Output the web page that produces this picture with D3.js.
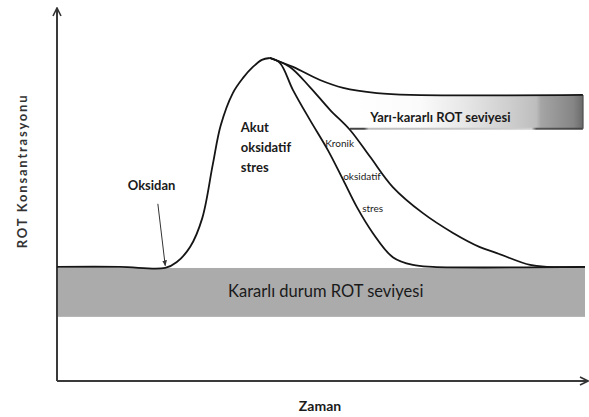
<!DOCTYPE html>
<html>
<head>
<meta charset="utf-8">
<script src="https://cdn.jsdelivr.net/npm/d3@7"></script>
<style>
  body { margin: 0; background: #fff; }
  text { font-family: Lato, "Open Sans", sans-serif; fill: #1a1a1a; }
</style>
</head>
<body>
<div id="chart"></div>
<script>
// time (0-100) vs ROT concentration (0-100)
var acuteRise = [[0,30.6],[11.9,30.6],[20.5,30.3],[22.7,31.9],[25.2,35.9],[27.5,43.6],
                 [29.5,58.0],[31.0,68.5],[33.3,77.2],[35.2,81.2],[37.1,84.2],[38.8,86.1],[40.3,86.6]];
var acuteFall = [[40.3,86.6],[42.2,85.3],[44.7,78.0],[47.9,70.0],[51.3,61.9],[54.2,53.9],[56.8,46.6],
                 [59.8,39.7],[63.6,33.2],[67.4,31.1],[71.2,30.6],[100,30.6]];
var chronicFall = [[40.3,86.6],[44.1,84.2],[47.9,78.8],[51.7,72.7],[55.5,67.3],[59.3,60.1],[63.6,52.0],
                   [69.3,45.0],[75.0,39.7],[80.1,35.9],[83.3,34.3],[89.6,31.1],[92.8,30.6],[100,30.6]];
var semiStable = [[40.3,86.6],[44.7,84.2],[49.8,80.7],[54.2,78.6],[60.6,77.2],[66.9,76.7],[99.6,76.7]];

var steadyBand = {t0: 0, t1: 100, top: 30.3, bottom: 17.2};
var semiBand = {t0: 55.5, t1: 99.6, top: 76.7, bottom: 67.6};

var labels = [
  {text: "Kararlı durum ROT seviyesi", t: 50.9, c: 22.6, size: 16.5, weight: "normal", anchor: "middle"},
  {text: "Yarı-kararlı ROT seviyesi", t: 72.6, c: 69.4, size: 13, weight: "bold", anchor: "middle"},
  {text: "Oksidan", t: 13.4, c: 51.2, size: 13, weight: "bold", anchor: "start"},
  {text: "Akut", t: 34.8, c: 66.8, size: 13, weight: "bold", anchor: "start"},
  {text: "oksidatif", t: 34.8, c: 61.4, size: 13, weight: "bold", anchor: "start"},
  {text: "stres", t: 34.8, c: 56.1, size: 13, weight: "bold", anchor: "start"},
  {text: "Kronik", t: 50.8, c: 62.7, size: 10, weight: "normal", anchor: "start"},
  {text: "oksidatif", t: 54.2, c: 53.9, size: 10, weight: "normal", anchor: "start"},
  {text: "stres", t: 57.8, c: 45.3, size: 10, weight: "normal", anchor: "start"}
];
var oxidantArrow = [[19.1, 47.5], [20.5, 30.9]];

var width = 589, height = 417;
var x = d3.scaleLinear().domain([0, 100]).range([57, 585]);
var y = d3.scaleLinear().domain([0, 100]).range([381, 8]);

var svg = d3.select("#chart").append("svg")
    .attr("width", width)
    .attr("height", height);

var defs = svg.append("defs");
defs.append("marker")
    .attr("id", "head")
    .attr("viewBox", "0 0 10 10")
    .attr("refX", 9).attr("refY", 5)
    .attr("markerWidth", 5).attr("markerHeight", 5)
    .attr("markerUnits", "strokeWidth")
    .attr("orient", "auto")
  .append("path")
    .attr("d", "M1,1 L9,5 L1,9")
    .style("fill", "none")
    .style("stroke", "#333")
    .style("stroke-width", 1.6);
defs.append("marker")
    .attr("id", "thin")
    .attr("viewBox", "0 0 10 10")
    .attr("refX", 9).attr("refY", 5)
    .attr("markerWidth", 6).attr("markerHeight", 6)
    .attr("orient", "auto")
  .append("path")
    .attr("d", "M0,1 L10,5 L0,9 Z")
    .style("fill", "#333");

var grad = defs.append("linearGradient")
    .attr("id", "semiFill")
    .attr("gradientUnits", "userSpaceOnUse")
    .attr("x1", x(semiBand.t0)).attr("x2", x(semiBand.t1))
    .attr("y1", 0).attr("y2", 0);
[[0, "#ffffff"], [0.3, "#fbfbfb"], [0.5, "#e6e6e6"], [0.68, "#cfcfcf"], [0.8, "#bdbdbd"],
 [0.82, "#a5a5a5"], [0.96, "#858585"], [1, "#6a6a6a"]].forEach(function(s) {
  grad.append("stop").attr("offset", s[0]).attr("stop-color", s[1]);
});
var edge = defs.append("linearGradient")
    .attr("id", "semiEdge")
    .attr("gradientUnits", "userSpaceOnUse")
    .attr("x1", x(semiBand.t0)).attr("x2", x(semiBand.t1))
    .attr("y1", 0).attr("y2", 0);
[[0, "#444"], [0.06, "#444"], [0.08, "#bdbdbd"], [0.78, "#cfcfcf"], [0.8, "#555"], [1, "#444"]].forEach(function(s) {
  edge.append("stop").attr("offset", s[0]).attr("stop-color", s[1]);
});

// steady-state band
svg.append("rect")
    .attr("x", x(steadyBand.t0))
    .attr("y", y(steadyBand.top))
    .attr("width", x(steadyBand.t1) - x(steadyBand.t0))
    .attr("height", y(steadyBand.bottom) - y(steadyBand.top))
    .style("fill", "#ababab");

// semi-stable band
svg.append("rect")
    .attr("x", x(semiBand.t0))
    .attr("y", y(semiBand.top))
    .attr("width", x(semiBand.t1) - x(semiBand.t0))
    .attr("height", y(semiBand.bottom) - y(semiBand.top))
    .style("fill", "url(#semiFill)");
svg.append("line")
    .attr("x1", x(semiBand.t0)).attr("x2", x(semiBand.t1))
    .attr("y1", y(semiBand.bottom)).attr("y2", y(semiBand.bottom))
    .style("stroke", "url(#semiEdge)")
    .style("stroke-width", 2);
svg.append("line")
    .attr("x1", x(semiBand.t1)).attr("x2", x(semiBand.t1))
    .attr("y1", y(semiBand.top)).attr("y2", y(semiBand.bottom))
    .style("stroke", "#555")
    .style("stroke-width", 1.5);

// axes (no ticks, arrow heads)
svg.append("line")
    .attr("x1", x(0)).attr("y1", y(0))
    .attr("x2", x(0)).attr("y2", y(100))
    .style("stroke", "#3a3a3a").style("stroke-width", 2)
    .attr("marker-end", "url(#head)");
svg.append("line")
    .attr("x1", x(0)).attr("y1", y(0))
    .attr("x2", x(100) + 3).attr("y2", y(0))
    .style("stroke", "#3a3a3a").style("stroke-width", 2)
    .attr("marker-end", "url(#head)");

// curves
var line = d3.line()
    .x(function(d) { return x(d[0]); })
    .y(function(d) { return y(d[1]); })
    .curve(d3.curveCatmullRom.alpha(0.5));

svg.append("g")
    .attr("class", "curves")
  .selectAll("path")
    .data([semiStable, chronicFall, acuteFall, acuteRise])
  .enter().append("path")
    .attr("d", line)
    .style("fill", "none")
    .style("stroke", "#151515")
    .style("stroke-width", 1.8);

// oxidant arrow
svg.append("line")
    .attr("x1", x(oxidantArrow[0][0])).attr("y1", y(oxidantArrow[0][1]))
    .attr("x2", x(oxidantArrow[1][0])).attr("y2", y(oxidantArrow[1][1]))
    .style("stroke", "#333").style("stroke-width", 1)
    .attr("marker-end", "url(#thin)");

// annotations
svg.append("g")
  .selectAll("text")
    .data(labels)
  .enter().append("text")
    .attr("x", function(d) { return x(d.t); })
    .attr("y", function(d) { return y(d.c); })
    .attr("text-anchor", function(d) { return d.anchor; })
    .style("font-size", function(d) { return d.size + "px"; })
    .style("font-weight", function(d) { return d.weight; })
    .text(function(d) { return d.text; });

// axis titles
svg.append("text")
    .attr("x", 320).attr("y", 411)
    .attr("text-anchor", "middle")
    .style("font-size", "14px").style("font-weight", "bold")
    .text("Zaman");
svg.append("text")
    .attr("transform", "translate(27,171) rotate(-90)")
    .attr("text-anchor", "middle")
    .style("font-size", "13px").style("font-weight", "bold")
    .style("letter-spacing", "1.8px")
    .style("fill", "#333")
    .text("ROT Konsantrasyonu");
</script>
</body>
</html>
